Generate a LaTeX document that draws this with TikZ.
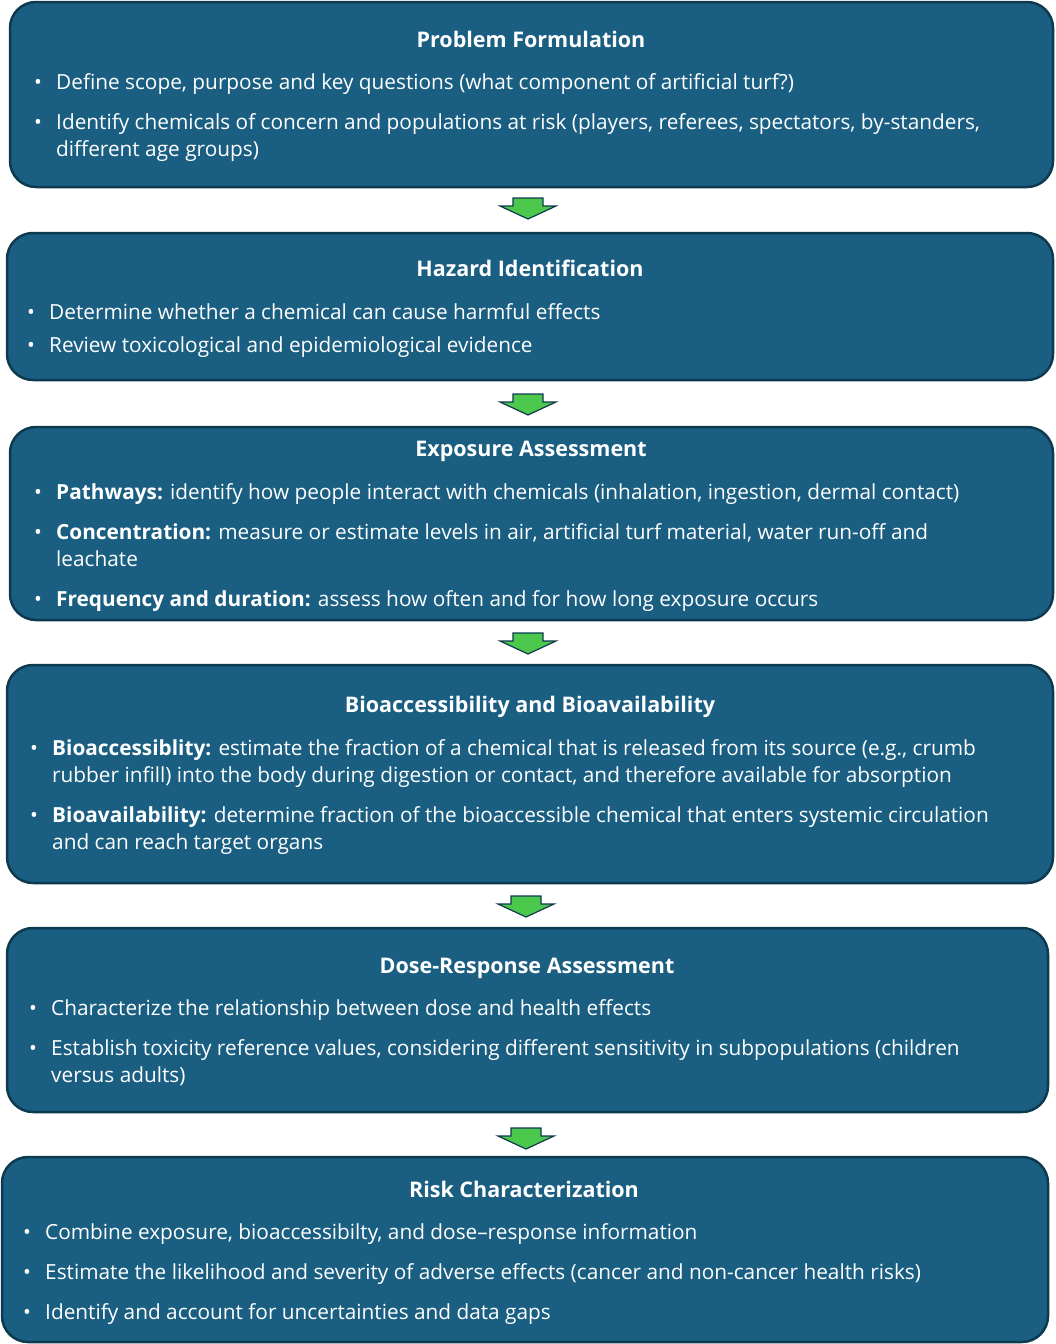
\documentclass[tikz,border=0pt]{standalone}
\usepackage{fontspec}
\setmainfont{Open Sans}
\definecolor{boxfill}{HTML}{1A5F82}
\definecolor{boxline}{HTML}{0E3A50}
\definecolor{arrgreen}{HTML}{4CC94C}
\tikzset{
 stage/.style={draw=boxline,fill=boxfill,line width=2.5pt,rounded corners=26pt},
 ttl/.style={text=white,font=\fontsize{21.5}{24}\selectfont\bfseries,anchor=base},
 txt/.style={text=white,font=\fontsize{20.8}{27}\selectfont,anchor=base west,align=left,inner sep=0pt},
 flowarrow/.style={draw=boxline,fill=arrgreen,line width=1.2pt,line join=miter}
}
\newcommand{\itm}[4]{\node[txt] at (#1,#2) {\textbullet}; \node[txt] (#4) at (#1+22,#2) {#3};}
\newcommand{\itmm}[4]{\node[txt] at (#1,#2) {\textbullet}; \node[txt] (#4) at (#1+22,#2+27) {#3};}
\newcommand{\garrow}[3]{\draw[flowarrow] (#1-15,#2) -- (#1+15,#2) -- (#1+15,#2+8) -- (#1+28,#2+8) -- (#1,#2+21) -- (#1-28,#2+8) -- (#1-15,#2+8) -- cycle; \coordinate (#3) at (#1,#2);}
\begin{document}
\begin{tikzpicture}[x=1pt,y=-1pt]
\useasboundingbox (0,0) rectangle (1055,1344);
\draw[stage] (10,2) rectangle (1053,187);
\draw[stage] (7,233) rectangle (1053,380);
\draw[stage] (10,427) rectangle (1053,620);
\draw[stage] (7,665) rectangle (1053,883);
\draw[stage] (7,928) rectangle (1048,1112);
\draw[stage] (2,1157) rectangle (1048,1342);
\garrow{528}{198}{a1}
\garrow{528}{394}{a2}
\garrow{528}{633}{a3}
\garrow{526}{896}{a4}
\garrow{526}{1128}{a5}
\node[ttl] (t1) at (531,47) {Problem Formulation};
\itm{34}{89}{Define scope, purpose and key questions (what component of artificial turf?)}{i11}
\itmm{34}{129}{Identify chemicals of concern and populations at risk (players, referees, spectators, by-standers,\\different age groups)}{i12}
\node[ttl] (t2) at (530,276) {Hazard Identification};
\itm{27}{319}{Determine whether a chemical can cause harmful effects}{i21}
\itm{27}{352}{Review toxicological and epidemiological evidence}{i22}
\node[ttl] (t3) at (531,456) {Exposure Assessment};
\itm{34}{499}{\textbf{Pathways:} identify how people interact with chemicals (inhalation, ingestion, dermal contact)}{i31}
\itmm{34}{539}{\textbf{Concentration:} measure or estimate levels in air, artificial turf material, water run-off and\\leachate}{i32}
\itm{34}{606}{\textbf{Frequency and duration:} assess how often and for how long exposure occurs}{i33}
\node[ttl] (t4) at (530,712) {Bioaccessibility and Bioavailability};
\itmm{30}{755}{\textbf{Bioaccessiblity:} estimate the fraction of a chemical that is released from its source (e.g., crumb\\rubber infill) into the body during digestion or contact, and therefore available for absorption}{i41}
\itmm{30}{822}{\textbf{Bioavailability:} determine fraction of the bioaccessible chemical that enters systemic circulation\\and can reach target organs}{i42}
\node[ttl] (t5) at (527,973) {Dose-Response Assessment};
\itm{29}{1015}{Characterize the relationship between dose and health effects}{i51}
\itmm{29}{1055}{Establish toxicity reference values, considering different sensitivity in subpopulations (children\\versus adults)}{i52}
\node[ttl] (t6) at (524,1197) {Risk Characterization};
\itm{23}{1239}{Combine exposure, bioaccessibilty, and dose--response information}{i61}
\itm{23}{1279}{Estimate the likelihood and severity of adverse effects (cancer and non-cancer health risks)}{i62}
\itm{23}{1319}{Identify and account for uncertainties and data gaps}{i63}
\end{tikzpicture}
\end{document}
